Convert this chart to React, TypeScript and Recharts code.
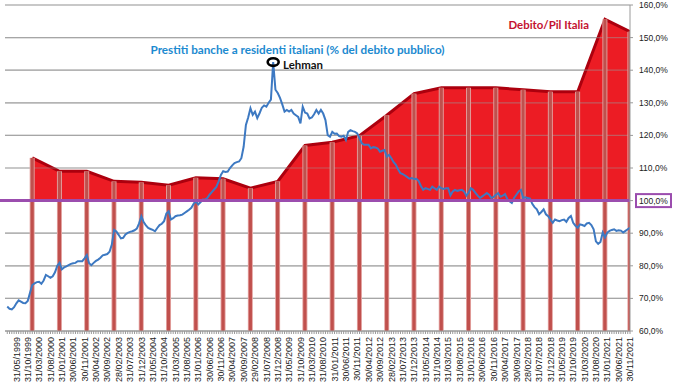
import React from "react";
import {
  ComposedChart,
  Line,
  Area,
  Bar,
  XAxis,
  YAxis,
  CartesianGrid,
  ReferenceLine,
  ReferenceDot,
} from "recharts";

// Monthly series, Jan 1999 (index 0) .. Nov 2021 (index 274)
const loanRatio: number[] = [
  67.5, 66.8, 66.6, 67.3, 68.5, 69.4, 69.0, 68.6, 68.5, 69.2, 71.7, 74.1,
  74.6, 75.0, 75.1, 74.5, 75.5, 77.2, 76.8, 76.3, 76.8, 78.0, 80.0, 80.9,
  78.9, 79.5, 79.8, 80.2, 80.6, 80.8, 80.9, 81.4, 81.4, 81.4, 82.3, 83.3,
  80.8, 80.2, 80.9, 81.5, 81.9, 82.5, 83.2, 83.4, 83.6, 84.3, 86.5, 91.0,
  90.5, 89.5, 88.4, 88.6, 89.6, 90.1, 90.4, 90.6, 90.9, 91.4, 93.0, 95.2,
  93.4, 92.4, 91.6, 91.3, 91.0, 90.6, 91.6, 92.5, 92.9, 93.7, 96.0, 96.7,
  94.2, 94.6, 95.2, 95.4, 95.5, 95.7, 96.2, 96.7, 97.2, 97.8, 99.0, 99.8,
  98.8, 99.5, 100.3, 100.3, 100.8, 101.8, 102.6, 103.4, 104.2, 105.9, 107.9, 109.0,
  108.8, 108.9, 110.0, 110.8, 111.5, 111.8, 112.0, 113.0, 116.5, 123.2, 125.5, 128.3,
  126.3, 127.3, 125.3, 126.8, 128.5, 129.2, 128.8, 130.0, 131.0, 142.5, 134.0, 133.0,
  131.5, 129.5, 127.3, 127.8, 127.3, 127.8, 126.7, 126.2, 125.7, 123.7, 128.8, 127.0,
  126.7, 125.2, 125.5, 126.5, 127.8, 126.7, 127.8, 126.7, 124.7, 120.1, 119.6, 121.1,
  120.5, 120.6, 119.8, 119.6, 119.9, 118.6, 121.1, 121.6, 121.3, 121.1, 120.6, 119.1,
  117.6, 117.1, 117.1, 117.1, 116.0, 116.4, 116.3, 116.0, 115.0, 115.3, 115.5, 113.5,
  114.0, 113.0, 111.8, 111.0, 109.5, 108.4, 108.1, 107.7, 107.2, 106.7, 106.9, 106.6,
  106.7, 106.0, 104.5, 103.3, 103.8, 103.6, 103.3, 104.3, 103.8, 103.3, 104.3, 103.8,
  103.6, 103.8, 103.8, 101.6, 102.8, 103.3, 103.0, 103.2, 103.3, 102.8, 101.5, 102.5,
  103.8, 103.3, 102.4, 101.5, 100.8, 101.3, 101.8, 102.3, 101.8, 100.8, 101.1, 101.8,
  102.3, 101.2, 101.5, 102.0, 100.5, 99.8, 99.3, 100.8, 101.8, 102.8, 103.3, 100.8,
  101.0, 100.8, 100.6, 99.0, 98.0, 97.3, 95.8, 96.5, 97.3, 95.8, 95.2, 94.2,
  93.2, 94.2, 93.9, 93.7, 94.0, 94.2, 93.5, 94.7, 95.3, 93.2, 92.3, 91.7,
  92.7, 92.5, 92.2, 93.0, 93.2, 92.5, 91.2, 87.5, 86.7, 87.3, 90.2, 88.7,
  90.2, 90.7, 91.0, 91.2, 90.7, 90.9, 90.8, 90.2, 90.7, 91.2, 91.7,
];

// Debt / GDP at each December, 1999 .. 2020
const debtDecember: number[] = [
  113.1, 109.0, 109.0, 105.9, 105.6, 104.7, 107.0, 106.7, 103.8, 105.9, 116.9,
  117.9, 119.9, 126.2, 132.8, 134.6, 134.6, 134.6, 134.0, 133.4, 133.4, 155.6,
];
// Debt / GDP last observation (Nov 2021)
const debtLast = 151.8;

const lehmanMonth = 117;
const lehmanValue = 142.5;

// X tick labels (every 5 months starting May 1999)
const tickLabels: string[] = [
  "31/05/1999", "31/10/1999", "31/03/2000", "31/08/2000", "31/01/2001",
  "30/06/2001", "30/11/2001", "30/04/2002", "30/09/2002", "28/02/2003",
  "31/07/2003", "31/12/2003", "31/05/2004", "31/10/2004", "31/03/2005",
  "31/08/2005", "31/01/2006", "30/06/2006", "30/11/2006", "30/04/2007",
  "30/09/2007", "29/02/2008", "31/07/2008", "31/12/2008", "31/05/2009",
  "31/10/2009", "31/03/2010", "31/08/2010", "31/01/2011", "30/06/2011",
  "30/11/2011", "30/04/2012", "30/09/2012", "28/02/2013", "31/07/2013",
  "31/12/2013", "31/05/2014", "31/10/2014", "31/03/2015", "31/08/2015",
  "31/01/2016", "30/06/2016", "30/11/2016", "30/04/2017", "30/09/2017",
  "28/02/2018", "31/07/2018", "31/12/2018", "31/05/2019", "31/10/2019",
  "31/03/2020", "31/08/2020", "31/01/2021", "30/06/2021", "30/11/2021",
];
const firstLabelMonth = 4;
const labelStep = 5;

const yTicks: number[] = [60, 70, 80, 90, 100, 110, 120, 130, 140, 150, 160];

const labelByMonth: Record<number, string> = {};
tickLabels.forEach((l, i) => {
  labelByMonth[firstLabelMonth + i * labelStep] = l;
});

const lastIdx = loanRatio.length - 1;
const data = loanRatio.map((v, m) => {
  let debt: number | null = null;
  if (m % 12 === 11) {
    const k = (m - 11) / 12;
    if (k >= 0 && k < debtDecember.length) debt = debtDecember[k];
  }
  if (m === lastIdx) debt = debtLast;
  return { m, loans: v, debt, debtBar: debt };
});
const allMonths = loanRatio.map((_, i) => i);

const FONT = "'Liberation Sans', Arial, sans-serif";

const MonthTick = (props: any) => {
  const { x, y, payload } = props;
  const label = labelByMonth[payload.value];
  if (!label) return <g />;
  return (
    <text
      transform={`translate(${x},${y + 1}) rotate(-90)`}
      textAnchor="end"
      dy="0.35em"
      fontSize={9}
      fontFamily={FONT}
      fill="#222"
    >
      {label}
    </text>
  );
};

const fmtPct = (v: number) => v.toFixed(1).replace(".", ",") + "%";

const RightTick = (props: any) => {
  const { x, y, payload } = props;
  const v = payload.value as number;
  return (
    <g>
      {v === 100 && (
        <rect
          x={x - 3}
          y={y - 6.5}
          width={35}
          height={13}
          fill="#fff"
          stroke="#9B4DAE"
          strokeWidth={2}
        />
      )}
      <text
        x={x}
        y={y}
        dy="0.35em"
        textAnchor="start"
        fontSize={8.5}
        fontFamily={FONT}
        fill="#222"
      >
        {fmtPct(v)}
      </text>
    </g>
  );
};

// Year-end column: Recharts shrinks bars to the tiny monthly band, so the
// shape widens the column around its own centre.
const YearColumn = (props: any) => {
  const { x, y, width, height } = props;
  if (height == null || height <= 0) return <g />;
  const cx = x + width / 2;
  return (
    <g>
      <rect x={cx - 2.5} y={y} width={5} height={height} fill="#E3A3A1" />
      <rect x={cx - 1.6} y={y} width={3.2} height={height} fill="#C0504D" />
    </g>
  );
};

const LehmanMarker = (props: any) => {
  const { cx, cy } = props;
  return (
    <ellipse
      cx={cx}
      cy={cy}
      rx={5.5}
      ry={3.8}
      fill="none"
      stroke="#000"
      strokeWidth={2.6}
    />
  );
};

export default function App() {
  return (
    <div
      style={{
        position: "absolute",
        left: 0,
        top: 0,
        width: 674,
        height: 388,
        background: "#fff",
        overflow: "hidden",
      }}
    >
      <ComposedChart
        width={674}
        height={388}
        data={data}
        margin={{ top: 5, right: 0, bottom: 0, left: 5 }}
      >
        <CartesianGrid vertical={false} stroke="#B3B3B3" strokeWidth={1.2} />
        <XAxis
          dataKey="m"
          type="number"
          domain={[-1, 274]}
          ticks={allMonths}
          interval={0}
          tick={<MonthTick />}
          tickSize={3}
          tickMargin={2}
          tickLine={{ stroke: "#9A9A9A" }}
          axisLine={{ stroke: "#9A9A9A" }}
          height={57}
          allowDataOverflow
        />
        <YAxis
          orientation="right"
          type="number"
          domain={[60, 160]}
          ticks={yTicks}
          interval={0}
          width={44}
          tick={<RightTick />}
          tickSize={3}
          tickMargin={6}
          tickLine={{ stroke: "#9A9A9A" }}
          axisLine={{ stroke: "#9A9A9A" }}
          allowDataOverflow
        />
        <Area
          dataKey="debt"
          type="linear"
          baseValue={100}
          connectNulls
          fill="#EC1C24"
          fillOpacity={1}
          stroke="#AC000E"
          strokeWidth={3}
          isAnimationActive={false}
          dot={false}
          activeDot={false}
        />
        <CartesianGrid
          vertical={false}
          stroke="#9A9A9A"
          strokeOpacity={0.5}
          strokeWidth={1.2}
          zIndex={150}
        />
        <Bar
          dataKey="debtBar"
          barSize={4}
          fill="#C0504D"
          shape={<YearColumn />}
          isAnimationActive={false}
        />
        <Line
          dataKey="loans"
          type="linear"
          stroke="#3D79C2"
          strokeWidth={2}
          dot={false}
          activeDot={false}
          isAnimationActive={false}
        />
        <ReferenceLine
          segment={[
            { x: -3.3, y: 100 },
            { x: 274, y: 100 },
          ]}
          stroke="#9B4DAE"
          strokeWidth={3}
          ifOverflow="visible"
        />
        <ReferenceDot
          x={lehmanMonth}
          y={lehmanValue}
          shape={<LehmanMarker />}
          ifOverflow="visible"
        />
      </ComposedChart>
      <svg
        width={674}
        height={388}
        style={{ position: "absolute", left: 0, top: 0, pointerEvents: "none" }}
      >
        <text
          x={150.5}
          y={54}
          fontFamily="Lato, 'Open Sans', sans-serif"
          fontWeight="bold"
          fontSize={11.5}
          fill="#1C8AD0"
          textLength={294}
          lengthAdjust="spacingAndGlyphs"
        >
          Prestiti banche a residenti italiani (% del debito pubblico)
        </text>
        <text
          x={508.5}
          y={29}
          fontFamily="Lato, 'Open Sans', sans-serif"
          fontWeight="bold"
          fontSize={11.5}
          fill="#C41230"
          textLength={80.5}
          lengthAdjust="spacingAndGlyphs"
        >
          Debito/Pil Italia
        </text>
        <text
          x={283}
          y={69}
          fontFamily="Lato, 'Open Sans', sans-serif"
          fontWeight="bold"
          fontSize={11}
          fill="#111"
          textLength={40}
          lengthAdjust="spacingAndGlyphs"
        >
          Lehman
        </text>
      </svg>
    </div>
  );
}
